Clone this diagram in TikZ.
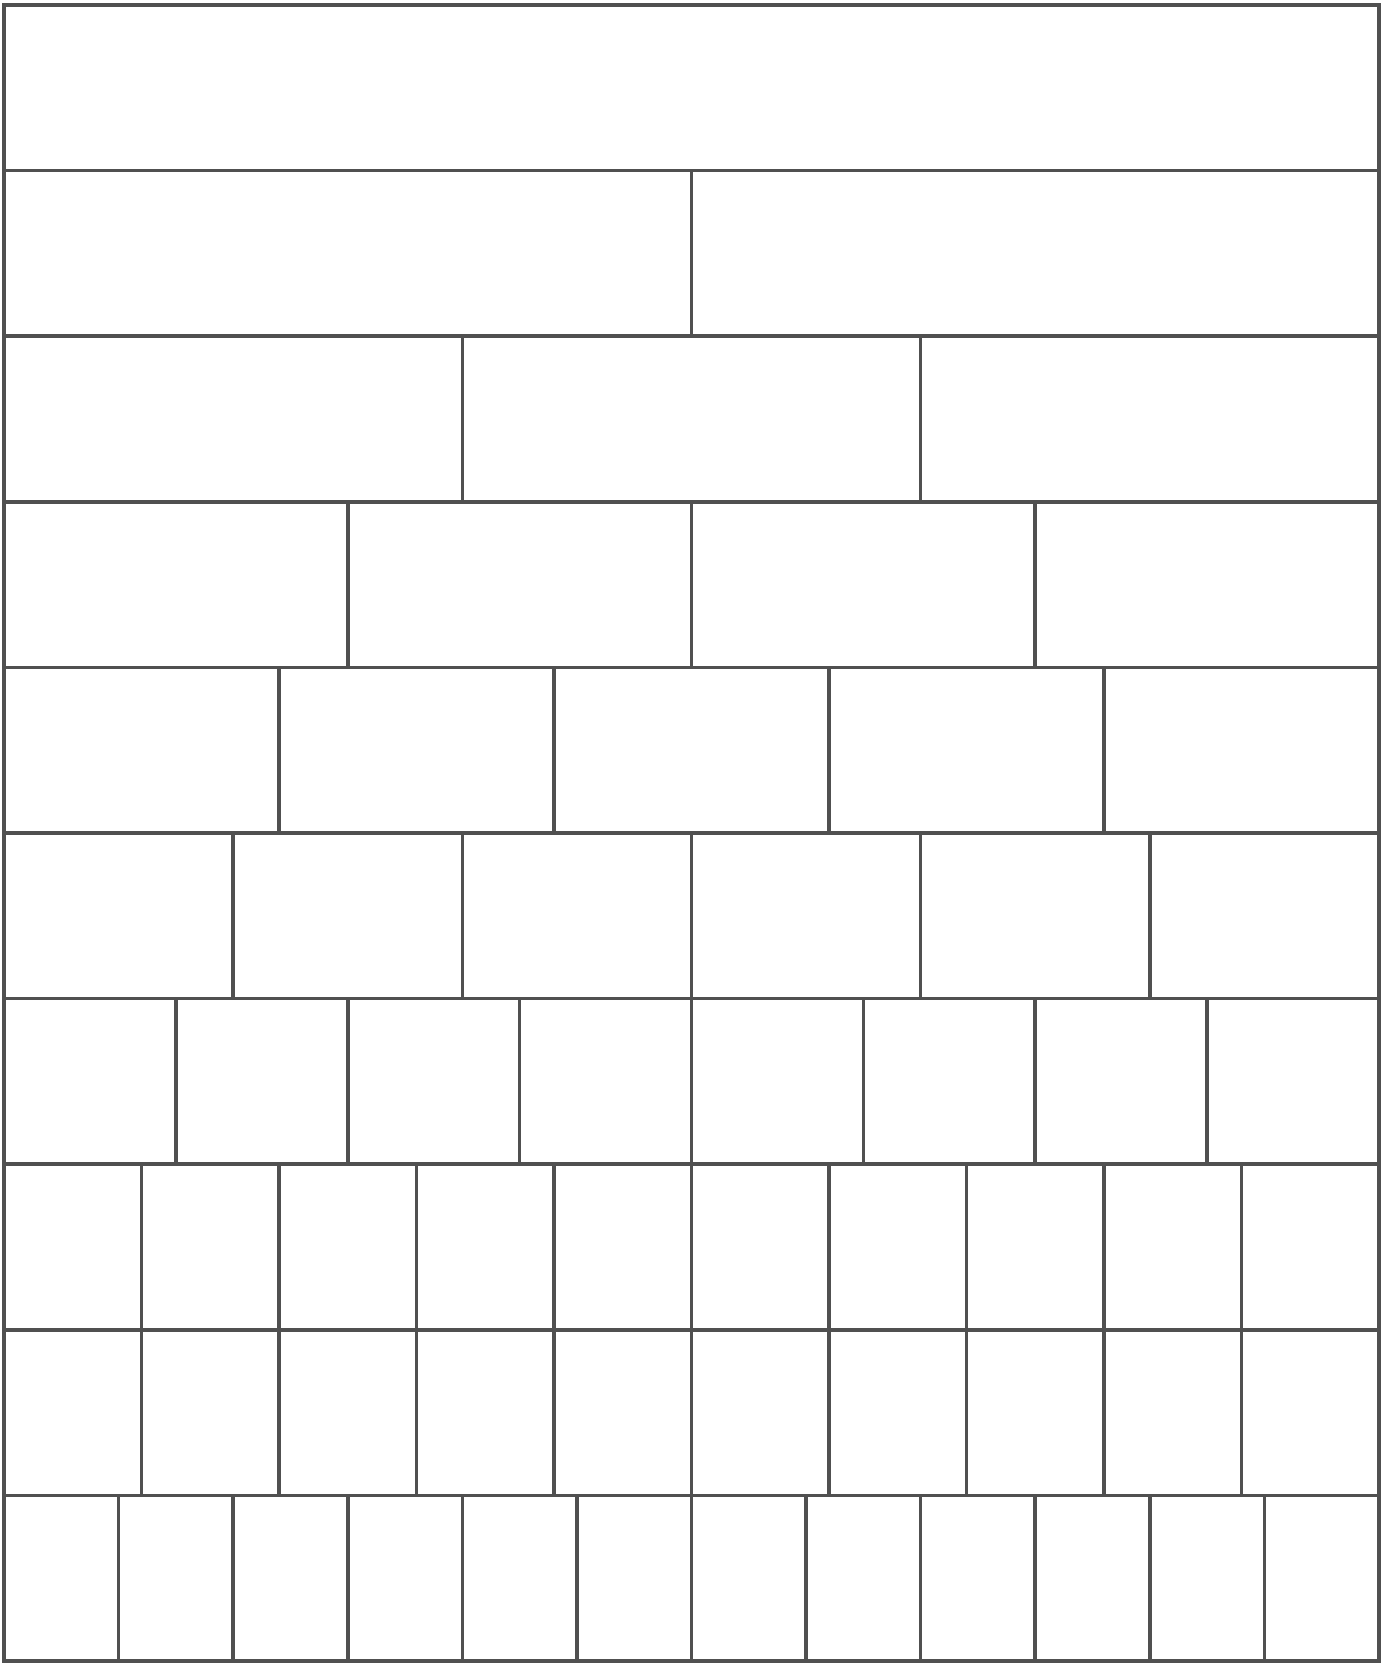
\documentclass[tikz,border=0pt]{standalone}
\definecolor{stripline}{HTML}{505050}
\begin{document}
\begin{tikzpicture}[x=0.5pt,y=-0.5pt,
  stripcell/.style={draw=stripline,line width=1.8pt}]
\useasboundingbox (0,0) rectangle (1382,1663);
\fill[white] (0,0) rectangle (1382,1663);
\def\L{4}\def\R{1379}\def\T{5}\def\H{165.6}
\foreach \n [count=\r from 0] in {1,2,3,4,5,6,8,10,10,12}{
  \pgfmathsetmacro{\yt}{\T+\r*\H}
  \pgfmathsetmacro{\yb}{\T+(\r+1)*\H}
  \pgfmathsetmacro{\w}{(\R-\L)/\n}
  \foreach \k in {1,...,\n}{
    \pgfmathsetmacro{\xa}{\L+(\k-1)*\w}
    \pgfmathsetmacro{\xb}{\L+\k*\w}
    \draw[stripcell] (\xa,\yt) rectangle (\xb,\yb);
  }
}
\end{tikzpicture}
\end{document}
